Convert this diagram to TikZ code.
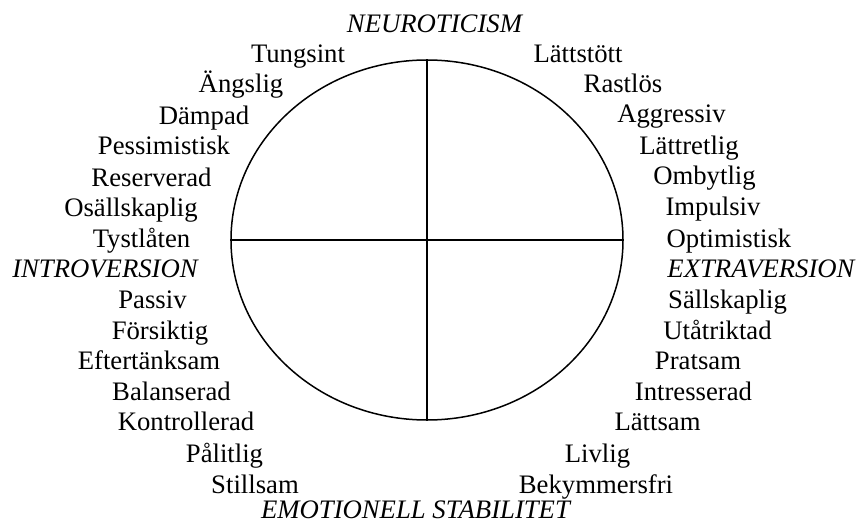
\documentclass[tikz,border=0pt]{standalone}
\usepackage{fontspec}
\setmainfont{Liberation Serif}
\usetikzlibrary{shapes.geometric}
\tikzset{
  lbl/.style={anchor=base, inner sep=0pt, font=\fontsize{26.7}{30}\selectfont},
  axis/.style={lbl, font=\fontsize{26.7}{30}\selectfont\itshape},
  ring/.style={draw, ellipse, line width=1.5pt, minimum width=392pt, minimum height=360pt, inner sep=0pt},
  divider/.style={line width=1.5pt}
}
\begin{document}
\begin{tikzpicture}[x=1pt,y=-1pt]
\useasboundingbox (0,0) rectangle (857,524);
\node[ring] (E) at (427,240) {};
\draw[divider] (E.north) -- (E.south);
\draw[divider] (E.west) -- (E.east);
% axes
\node[axis] (neu) at (434.5,33) {NEUROTICISM};
\node[axis] (intro) at (105,277) {INTROVERSION};
\node[axis] (extra) at (761,277) {EXTRAVERSION};
\node[axis] (emo) at (415.5,518) {EMOTIONELL STABILITET};
% left
\node[lbl] (l1) at (298,63) {Tungsint};
\node[lbl] (l2) at (241,93) {Ängslig};
\node[lbl] (l3) at (204,125) {Dämpad};
\node[lbl] (l4) at (164,155) {Pessimistisk};
\node[lbl] (l5) at (151.5,186) {Reserverad};
\node[lbl] (l6) at (131,216) {Osällskaplig};
\node[lbl] (l7) at (141.5,247) {Tystlåten};
\node[lbl] (l8) at (152.5,308) {Passiv};
\node[lbl] (l9) at (160,339) {Försiktig};
\node[lbl] (l10) at (149,369) {Eftertänksam};
\node[lbl] (l11) at (171.5,400) {Balanserad};
\node[lbl] (l12) at (186,430) {Kontrollerad};
\node[lbl] (l13) at (224.5,462) {Pålitlig};
\node[lbl] (l14) at (255,493) {Stillsam};
% right
\node[lbl] (r1) at (578,63) {Lättstött};
\node[lbl] (r2) at (623,93) {Rastlös};
\node[lbl] (r3) at (671.5,123) {Aggressiv};
\node[lbl] (r4) at (689,155) {Lättretlig};
\node[lbl] (r5) at (704.5,185) {Ombytlig};
\node[lbl] (r6) at (713,215) {Impulsiv};
\node[lbl] (r7) at (729,247) {Optimistisk};
\node[lbl] (r8) at (727.5,308) {Sällskaplig};
\node[lbl] (r9) at (717.5,339) {Utåtriktad};
\node[lbl] (r10) at (698,369) {Pratsam};
\node[lbl] (r11) at (693.5,400) {Intresserad};
\node[lbl] (r12) at (657.5,430) {Lättsam};
\node[lbl] (r13) at (597.5,462) {Livlig};
\node[lbl] (r14) at (596,493) {Bekymmersfri};
\end{tikzpicture}
\end{document}
